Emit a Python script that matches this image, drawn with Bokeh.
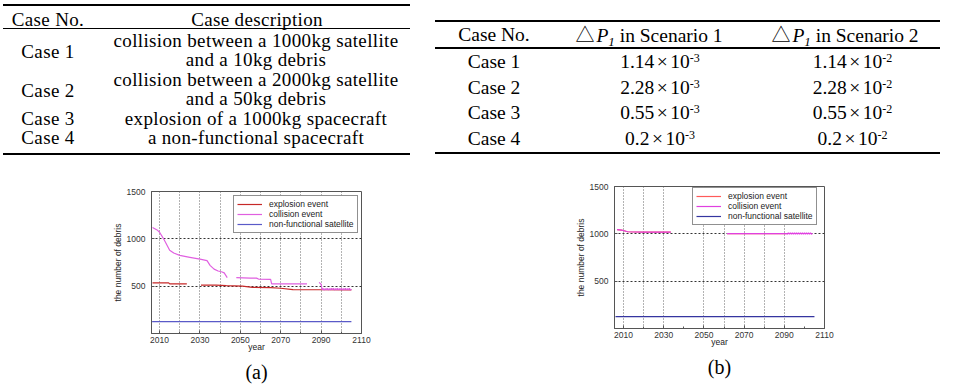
from bokeh.plotting import figure
from bokeh.models import Range1d, FixedTicker, Legend, LegendItem, Div
from bokeh.layouts import row, column
from bokeh.embed import file_html
from bokeh.resources import INLINE

nan = float("nan")

# ---------------- table data ----------------
t1_head = ["Case No.", "Case description"]
t1_cases = ["Case 1", "Case 2", "Case 3", "Case 4"]
t1_desc = [
    ["collision between a 1000kg satellite", "and a 10kg debris"],
    ["collision between a 2000kg satellite", "and a 50kg debris"],
    ["explosion of a 1000kg spacecraft"],
    ["a non-functional spacecraft"],
]
t2_case_head = "Case No."
t2_scen_head = ["in Scenario 1", "in Scenario 2"]
t2_cases = ["Case 1", "Case 2", "Case 3", "Case 4"]
dp1_s1_mant = ["1.14", "2.28", "0.55", "0.2"]
dp1_s1_exp = ["-3", "-3", "-3", "-3"]
dp1_s2_mant = ["1.14", "2.28", "0.55", "0.2"]
dp1_s2_exp = ["-2", "-2", "-2", "-2"]

# ---------------- chart data ----------------
year_ticks = [2010, 2030, 2050, 2070, 2090, 2110]
year_minor = [2020, 2040, 2060, 2080, 2100]
debris_ticks = [500, 1000, 1500]
series_labels = ["explosion event", "collision event", "non-functional satellite"]

# (a) scenario 1
a_expl_year = [2006.5, 2014.5, 2015.0, 2023.5, nan, 2030.5, 2038.0, 2043.0, 2051.0, 2056.0, 2065.0, 2070.0, 2076.0, 2090.0, 2105.0]
a_expl_val = [535, 535, 524, 524, nan, 512, 512, 505, 500, 488, 485, 478, 464, 462, 460]
a_coll_year = [2006.5, 2009, 2010, 2012, 2015, 2017, 2020, 2025, 2030, 2033.5, 2035, 2037, 2039, 2041, 2042, 2043.5,
               nan, 2048, 2055, 2058, 2059, 2065, 2065.5, 2075, 2083, nan, 2089, 2090]
a_coll_val = [1120, 1090, 1070, 1000, 880, 850, 825, 805, 785, 770, 720, 680, 660, 650, 640, 590,
              nan, 590, 585, 585, 575, 572, 525, 525, 525, nan, 540, 520]
a_coll_band_val = [462, 476, 458, 474, 461, 477, 459, 473, 460, 476, 462, 478, 459, 475, 461,
                   477, 460, 474, 462, 477, 459, 475, 461, 478, 460, 474, 462, 476, 460, 468]
a_nf_year = [2006.3, 2105]
a_nf_val = [125, 125]

# (b) scenario 2
b_coll_year = [2006.8, 2009, 2012, 2020, 2033.5, nan, 2061.5, 2075, 2091]
b_coll_val = [1045, 1040, 1022, 1018, 1018, nan, 1003, 1003, 1003]
b_coll_band_val = [997, 1010, 996, 1011, 998, 1009, 996, 1010, 997, 1011, 996, 1009, 998, 1010,
                   996, 1011, 997, 1009, 996, 1010, 998, 1011, 997, 1009, 996, 1005]
b_expl_year = [2006.8, 2009, 2012, 2020, 2033.5, nan, 2061.5, 2075, 2091]
b_expl_val = [1045, 1040, 1022, 1018, 1018, nan, 1003, 1003, 1003]
b_nf_year = [2006.0, 2105]
b_nf_val = [125, 125]

# ---------------- styles ----------------
SERIF_CSS = "Liberation Serif,Times New Roman,serif"
CJK_CSS = "Noto Sans CJK SC,sans-serif"
SERIF = "Liberation Serif"
SANS = "Liberation Sans"


def t_abs(x, y, html, size, ls=0.0):
    return ('<div style="position:absolute;left:%.1fpx;top:%.1fpx;transform:translate(-50%%,-50%%);'
            'white-space:nowrap;font-family:%s;font-size:%.1fpx;line-height:1;letter-spacing:%.2fpx;'
            'color:#000;">%s</div>' % (x, y, SERIF_CSS, size, ls, html))


def rule(x0, x1, y, h):
    return ('<div style="position:absolute;left:%.1fpx;top:%.1fpx;width:%.1fpx;height:%.1fpx;'
            'background:#000;"></div>' % (x0, y - h / 2, x1 - x0, h))


def box(w, h, inner):
    return ('<div style="position:relative;width:%dpx;height:%dpx;background:#fff;overflow:hidden;'
            'margin:0;padding:0;">%s</div>' % (w, h, inner))


# ---------------- table 1 ----------------
F1, LS1 = 19, 0.35
parts = [rule(3, 410, 5, 2.5), rule(3, 410, 28.3, 1.2), rule(3, 410, 154, 2.5)]
parts.append(t_abs(48, 19, t1_head[0], F1, LS1))
parts.append(t_abs(257, 19, t1_head[1], F1, LS1))
line_y, pitch = 40.0, 19.4
for case, lines in zip(t1_cases, t1_desc):
    ys = []
    for ln in lines:
        parts.append(t_abs(256, line_y, ln, F1, LS1))
        ys.append(line_y)
        line_y += pitch
    cy = sum(ys) / len(ys) + (1.5 if len(ys) > 1 else 0)
    parts.append(t_abs(48, cy, case, F1, LS1))
d1 = Div(text=box(430, 175, "".join(parts)), width=430, height=175, margin=0)

# ---------------- table 2 ----------------
F2 = 19.5
head_y = 35
row_y = [62, 87.7, 113.3, 139]
parts = [rule(5, 510, 21, 2.5), rule(5, 510, 48, 1.2), rule(5, 510, 153, 2.5)]
parts.append(t_abs(64, head_y, t2_case_head, F2))
for case, y in zip(t2_cases, row_y):
    parts.append(t_abs(64, y, case, F2))
head_x = [219, 415]
val_x = [230, 422.5]
for k, lab in enumerate(t2_scen_head):
    html = ('<span style="font-family:%s;font-size:19px;margin-right:2px;">\u25b3</span>'
            '<i>P</i><i style="position:relative;top:0.3em;font-size:13px;">1</i> %s' % (CJK_CSS, lab))
    parts.append(t_abs(head_x[k], head_y, html, F2))
for k, (mants, exps) in enumerate(((dp1_s1_mant, dp1_s1_exp), (dp1_s2_mant, dp1_s2_exp))):
    for m, e, y in zip(mants, exps, row_y):
        html = ('%s<span style="margin:0 2.5px;">\u00d7</span>10'
                '<span style="position:relative;top:-0.5em;font-size:12px;">%s</span>' % (m, e))
        parts.append(t_abs(val_x[k], y, html, F2))
d2 = Div(text=box(529, 174, "".join(parts)), width=529, height=174, margin=0)


# ---------------- charts ----------------
def chart(xr, left, right, top, bottom, grid_years, series, legend_xy, caption, cap_offset):
    p = figure(frame_width=210, frame_height=142, x_range=Range1d(*xr), y_range=Range1d(0, 1500),
               min_border_left=left, min_border_right=right, min_border_top=top, min_border_bottom=bottom,
               output_backend="svg", toolbar_location=None, margin=0,
               title=caption, title_location="below")
    p.title.text_font = SERIF
    p.title.text_font_size = "20px"
    p.title.text_font_style = "normal"
    p.title.text_color = "black"
    p.title.align = "center"
    p.title.offset = cap_offset
    p.title.standoff = 8
    p.xaxis.ticker = FixedTicker(ticks=year_ticks, minor_ticks=year_minor)
    p.yaxis.ticker = FixedTicker(ticks=debris_ticks)
    p.xaxis.axis_label = "year"
    p.yaxis.axis_label = "the number of debris"
    for ax in (p.xaxis[0], p.yaxis[0]):
        ax.axis_label_text_font = SANS
        ax.axis_label_text_font_size = "8.5px"
        ax.axis_label_text_font_style = "normal"
        ax.axis_label_text_color = "#222"
        ax.major_label_text_font = SANS
        ax.major_label_text_font_size = "8.5px"
        ax.major_label_text_color = "#333"
        ax.axis_line_color = "#555"
        ax.major_tick_line_color = "#555"
        ax.minor_tick_line_color = "#555"
        ax.major_tick_in = 3
        ax.major_tick_out = 0
        ax.minor_tick_in = 2
        ax.minor_tick_out = 0
    p.xaxis.major_label_standoff = 3
    p.yaxis.major_label_standoff = 6
    p.xaxis.axis_label_standoff = -4
    p.yaxis.axis_label_standoff = 1
    p.outline_line_color = "#555"
    p.xgrid.ticker = FixedTicker(ticks=grid_years)
    p.xgrid.grid_line_color = "#666"
    p.xgrid.grid_line_dash = "1 2"
    p.ygrid.ticker = FixedTicker(ticks=[500, 1000])
    p.ygrid.grid_line_color = "#333"
    p.ygrid.grid_line_dash = "2 2"
    items = []
    for (xs, ys, color), lab in zip(series, series_labels):
        r = p.line(x=xs, y=ys, line_color=color, line_width=1.2)
        items.append(LegendItem(label=lab, renderers=[r]))
    leg = Legend(items=items, location=legend_xy, label_text_font=SANS, label_text_font_size="8.5px",
                 label_text_color="#222", glyph_width=25, glyph_height=10, label_height=10,
                 label_standoff=7, spacing=0, padding=3, margin=0,
                 border_line_color="#222", border_line_width=1.5, background_fill_alpha=1.0)
    p.add_layout(leg)
    return p


a_band_year = [2090.5 + 0.5 * i for i in range(len(a_coll_band_val))]
b_band_year = [2091.5 + 0.5 * i for i in range(len(b_coll_band_val))]

pa = chart((2006, 2110), 151, 69, 16, 53, [2010, 2020, 2030, 2040, 2050, 2060, 2070, 2080, 2090, 2100],
           [(a_expl_year, a_expl_val, "#c62828"),
            (a_coll_year + a_band_year, a_coll_val + a_coll_band_val, "#e060e0"),
            (a_nf_year, a_nf_val, "#5a5ac8")],
           (82, 100), "(a)", -13)

pb = chart((2005.5, 2110), 184, 135, 12, 53, [2010, 2020, 2030, 2050, 2060, 2070, 2080, 2090],
           [(b_expl_year, b_expl_val, "#ff5a5a"),
            (b_coll_year + b_band_year, b_coll_val + b_coll_band_val, "#e040e0"),
            (b_nf_year, b_nf_val, "#3535a0")],
           (78, 103), "(b)", -12)

layout = row(column(d1, pa, spacing=0), column(d2, pb, spacing=0), spacing=0)
open("out.html", "w").write(file_html(layout, INLINE))
